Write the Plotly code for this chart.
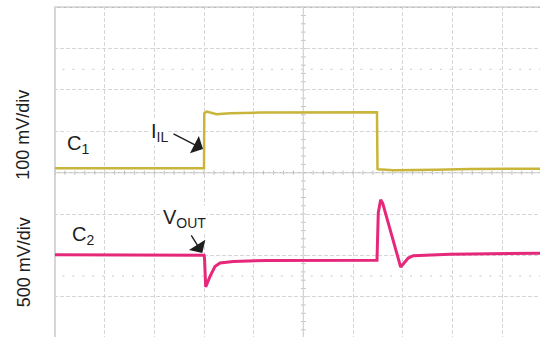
import plotly.graph_objects as go

# ---- data (time in divisions, value in divisions from bottom of screen) ----
c1_t = [0.0, 3.0, 3.005, 3.054, 3.255, 3.523, 4.127, 6.483, 6.493, 6.504, 6.811, 7.208, 7.685, 8.355, 9.02, 9.765]
c1_v = [4.11, 4.11, 5.434, 5.477, 5.414, 5.439, 5.453, 5.463, 4.07, 4.08, 4.056, 4.056, 4.073, 4.09, 4.097, 4.097]

c2_t = [0.0, 3.0, 3.01, 3.034, 3.121, 3.221, 3.322, 3.59, 4.262, 6.483, 6.509, 6.557, 6.597, 6.96, 7.113, 7.213, 7.952, 9.765]
c2_v = [2.015, 2.003, 1.943, 1.235, 1.491, 1.732, 1.814, 1.853, 1.877, 1.882, 3.03, 3.344, 3.264, 1.718, 1.935, 1.991, 2.027, 2.051]

ch_labels = ["100 mV/div", "500 mV/div"]

YELLOW = "#c8b53a"
MAGENTA = "#e6287a"
GRID = "#d6d6d6"
FONT = "Liberation Sans, Arial, sans-serif"
TXT = "#1e1e1e"

fig = go.Figure()
fig.add_trace(go.Scatter(x=c1_t, y=c1_v, mode="lines", line=dict(color=YELLOW, width=2.5), hoverinfo="skip"))
fig.add_trace(go.Scatter(x=c2_t, y=c2_v, mode="lines", line=dict(color=MAGENTA, width=3.0), hoverinfo="skip"))

shapes = []
# center horizontal axis (solid) and borders
shapes.append(dict(type="line", xref="x", yref="y", x0=-0.02, x1=9.8, y0=4, y1=4, line=dict(color="#c4c4c4", width=1.2), layer="below"))
shapes.append(dict(type="line", xref="x", yref="y", x0=-0.02, x1=9.8, y0=8, y1=8, line=dict(color="#bcbcbc", width=1.6), layer="below"))
shapes.append(dict(type="line", xref="x", yref="y", x0=0, x1=0, y0=0, y1=8, line=dict(color="#c4c4c4", width=1.4), layer="below"))
# dotted intermediate lines
for yy in (6.5, 1.5):
    shapes.append(dict(type="line", xref="x", yref="y", x0=0.15, x1=9.8, y0=yy, y1=yy,
                       line=dict(color="#c8c8c8", width=1, dash="2px,7.93px"), layer="below"))
# tick marks on center cross
for i in range(0, 50):
    t = i * 0.2
    shapes.append(dict(type="line", xref="x", yref="y", x0=t, x1=t, y0=4 - 0.05, y1=4 + 0.05,
                       line=dict(color="#bcbcbc", width=1), layer="below"))
for i in range(0, 41):
    v = i * 0.2
    shapes.append(dict(type="line", xref="x", yref="y", x0=5 - 0.045, x1=5 + 0.045, y0=v, y1=v,
                       line=dict(color="#bcbcbc", width=1), layer="below"))
shapes.append(dict(type="line", xref="x", yref="y", x0=5, x1=5, y0=0, y1=8, line=dict(color="#cfcfcf", width=1.2), layer="below"))

ann = []
def txt(x, y, s):
    ann.append(dict(x=x, y=y, xref="x", yref="y", text=s, showarrow=False, xanchor="left", yanchor="middle",
                    font=dict(family=FONT, size=20, color=TXT), bgcolor="white", borderpad=0))
txt(0.23, 4.67, "C<sub>1</sub>")
txt(1.92, 4.96, "I<sub>IL</sub>")
txt(2.16, 2.90, "V<sub>OUT</sub>")
txt(0.32, 2.47, "C<sub>2</sub>")

def arrow(x, y, ax, ay):
    ann.append(dict(x=x, y=y, xref="x", yref="y", text="", showarrow=True, ax=ax, ay=ay,
                    arrowhead=1, arrowsize=2.3, arrowwidth=1.4, arrowcolor=TXT, standoff=0, startstandoff=0))
arrow(2.98, 4.573, -31, -16)
arrow(2.966, 2.058, -12, -19)

for lab, py in zip(ch_labels, (0.612, 0.227)):
    ann.append(dict(x=-0.063, y=py, xref="paper", yref="paper", text=lab, showarrow=False, textangle=-90,
                    xanchor="center", yanchor="middle", font=dict(family=FONT, size=18, color=TXT)))

fig.update_layout(
    width=540, height=337,
    margin=dict(l=54, r=0, t=6, b=0),
    plot_bgcolor="white", paper_bgcolor="white",
    showlegend=False,
    shapes=shapes, annotations=ann,
    xaxis=dict(range=[-0.02, 9.765], dtick=1, tick0=0, showgrid=True, gridcolor=GRID, griddash="4px,2px",
               gridwidth=1, zeroline=False, showticklabels=False, ticks="", showline=False, fixedrange=True),
    yaxis=dict(range=[0.026, 8.031], dtick=1, tick0=0, showgrid=True, gridcolor=GRID, griddash="4px,2px",
               gridwidth=1, zeroline=False, showticklabels=False, ticks="", showline=False, fixedrange=True),
)

fig.write_html("out.html", config={"displayModeBar": False},
               post_script="document.body.style.margin='0px';document.body.style.padding='0px';")
